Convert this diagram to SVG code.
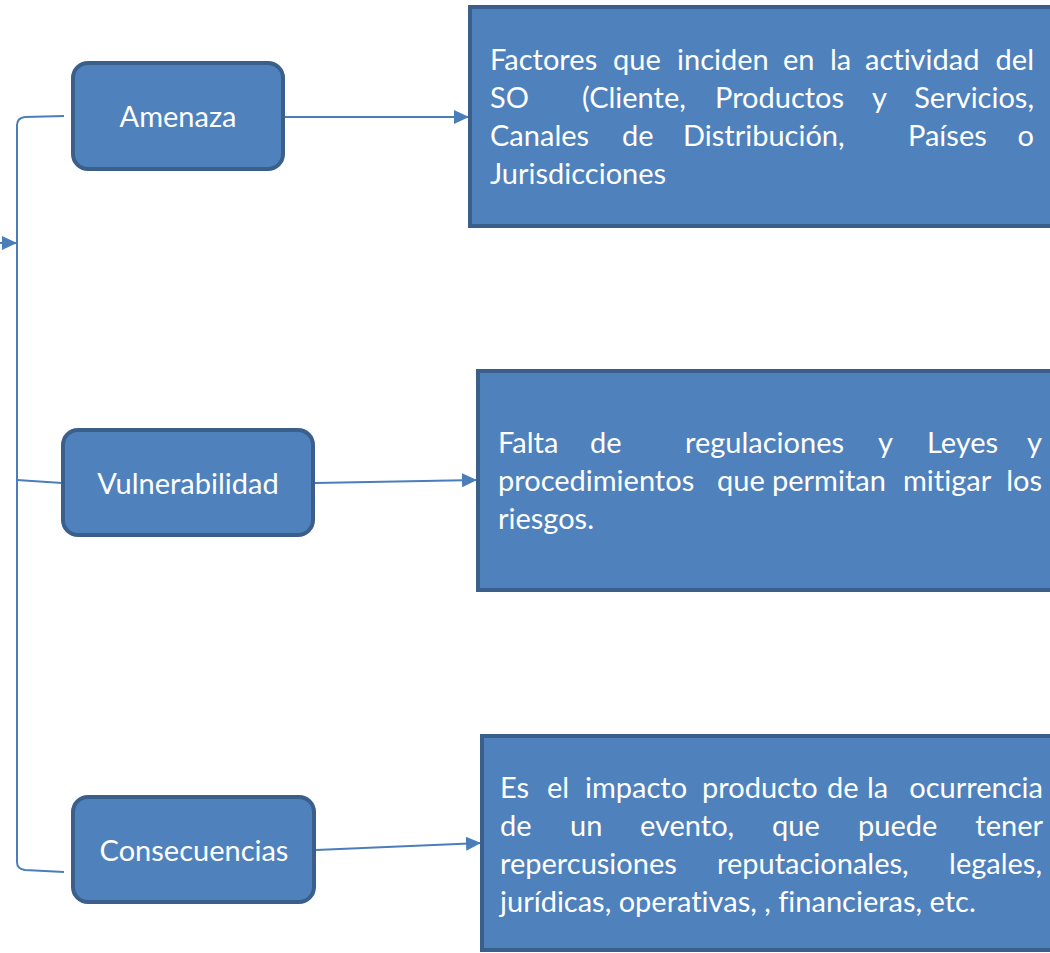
<svg xmlns="http://www.w3.org/2000/svg" width="1050" height="953" viewBox="0 0 1050 953">
<style>
.node{fill:#4F81BD;stroke:#3A5F8B;stroke-width:4}
.box{fill:#4F81BD;stroke:#3A5F8B;stroke-width:4}
.lbl{font-family:Lato,"Liberation Sans",sans-serif;font-size:29px;fill:#FFFFFF;font-variant-ligatures:none}
.mid{text-anchor:middle}
.end{text-anchor:end}
.con{fill:none;stroke:#4A7EBB;stroke-width:2}
</style>
<defs>
<marker id="arr" markerUnits="userSpaceOnUse" markerWidth="16" markerHeight="14" refX="15" refY="7" orient="auto">
<path d="M0,0 L15,7 L0,14 Z" fill="#4A7EBB"/>
</marker>
</defs>
<rect width="1050" height="953" fill="#FFFFFF"/>
<g id="connectors">
<path class="con" d="M64,116 L25,117 Q17,118 17,125 L17,862 Q17,869 25,870 L64,872"/>
<line class="con" x1="0" y1="243" x2="17" y2="243" marker-end="url(#arr)"/>
<line class="con" x1="17" y1="480" x2="62" y2="483"/>
<line class="con" x1="285" y1="117" x2="469" y2="117" marker-end="url(#arr)"/>
<line class="con" x1="315" y1="483" x2="477" y2="480" marker-end="url(#arr)"/>
<line class="con" x1="316" y1="850" x2="481" y2="843" marker-end="url(#arr)"/>
</g>
<g id="amenaza">
<rect class="node" x="73" y="63" width="210" height="106" rx="15"/>
<text class="lbl mid" x="178" y="127">Amenaza</text>
</g>
<g id="vulnerabilidad">
<rect class="node" x="63" y="430" width="250" height="105" rx="15"/>
<text class="lbl mid" x="188" y="494">Vulnerabilidad</text>
</g>
<g id="consecuencias">
<rect class="node" x="73" y="797" width="241" height="105" rx="15"/>
<text class="lbl mid" x="194" y="861">Consecuencias</text>
</g>
<g id="factores">
<rect class="box" x="470" y="7" width="600" height="219"/>
<text class="lbl" y="70"><tspan x="490">Factores</tspan><tspan x="613">que</tspan><tspan x="677">inciden</tspan><tspan x="783">en</tspan><tspan x="830">la</tspan><tspan x="865">actividad</tspan></text>
<text class="lbl end" x="1034" y="70">del</text>
<text class="lbl" y="108"><tspan x="490">SO</tspan><tspan x="582">(Cliente,</tspan><tspan x="715">Productos</tspan><tspan x="872">y</tspan></text>
<text class="lbl end" x="1034" y="108">Servicios,</text>
<text class="lbl" y="146"><tspan x="490">Canales</tspan><tspan x="622">de</tspan><tspan x="683">Distribución,</tspan><tspan x="908">Países</tspan></text>
<text class="lbl end" x="1034" y="146">o</text>
<text class="lbl" y="184"><tspan x="490">Jurisdicciones</tspan></text>
</g>
<g id="falta">
<rect class="box" x="478" y="371" width="600" height="219"/>
<text class="lbl" y="453"><tspan x="498">Falta</tspan><tspan x="590">de</tspan><tspan x="685">regulaciones</tspan><tspan x="878">y</tspan><tspan x="927">Leyes</tspan></text>
<text class="lbl end" x="1042" y="453">y</text>
<text class="lbl" y="491"><tspan x="498">procedimientos</tspan><tspan x="717">que</tspan><tspan x="772">permitan</tspan><tspan x="903">mitigar</tspan></text>
<text class="lbl end" x="1042" y="491">los</text>
<text class="lbl" y="529"><tspan x="498">riesgos.</tspan></text>
</g>
<g id="impacto">
<rect class="box" x="482" y="736" width="600" height="214"/>
<text class="lbl" y="798"><tspan x="500">Es</tspan><tspan x="547">el</tspan><tspan x="585">impacto</tspan><tspan x="702">producto</tspan><tspan x="827">de</tspan><tspan x="867">la</tspan></text>
<text class="lbl end" x="1043" y="798">ocurrencia</text>
<text class="lbl" y="836"><tspan x="500">de</tspan><tspan x="570">un</tspan><tspan x="640">evento,</tspan><tspan x="772">que</tspan><tspan x="858">puede</tspan></text>
<text class="lbl end" x="1043" y="836">tener</text>
<text class="lbl" y="874"><tspan x="500">repercusiones</tspan><tspan x="717">reputacionales,</tspan></text>
<text class="lbl end" x="1042" y="874">legales,</text>
<text class="lbl" y="912"><tspan x="500">jurídicas, operativas, , financieras, etc.</tspan></text>
</g>
</svg>
